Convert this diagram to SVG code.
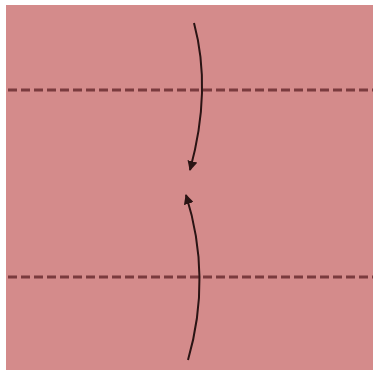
<svg xmlns="http://www.w3.org/2000/svg" width="377" height="374" viewBox="0 0 377 374">
<defs>
<style>
.fold{stroke:#7a3b3e;stroke-width:3;stroke-dasharray:9 4;fill:none}
.arr{stroke:#2a1414;stroke-width:2;fill:none}
</style>
<marker id="ah" viewBox="0 0 10 10" refX="9" refY="5" markerWidth="5" markerHeight="5" orient="auto" markerUnits="strokeWidth">
<path d="M0,0 L10,5 L0,10 Z" fill="#2a1414"/>
</marker>
</defs>
<rect width="377" height="374" fill="#ffffff"/>
<g id="paper"><rect x="6" y="5" width="367" height="365" fill="#d48b8b"/></g>
<g id="folds">
<line class="fold" x1="8" y1="90" x2="373" y2="90"/>
<line class="fold" x1="8" y1="277" x2="373" y2="277"/>
</g>
<g id="connectors">
<path class="arr" d="M194,23 Q212,90 190,170" marker-end="url(#ah)"/>
<path class="arr" d="M188,360 Q212,277 186,195" marker-end="url(#ah)"/>
</g>
</svg>
